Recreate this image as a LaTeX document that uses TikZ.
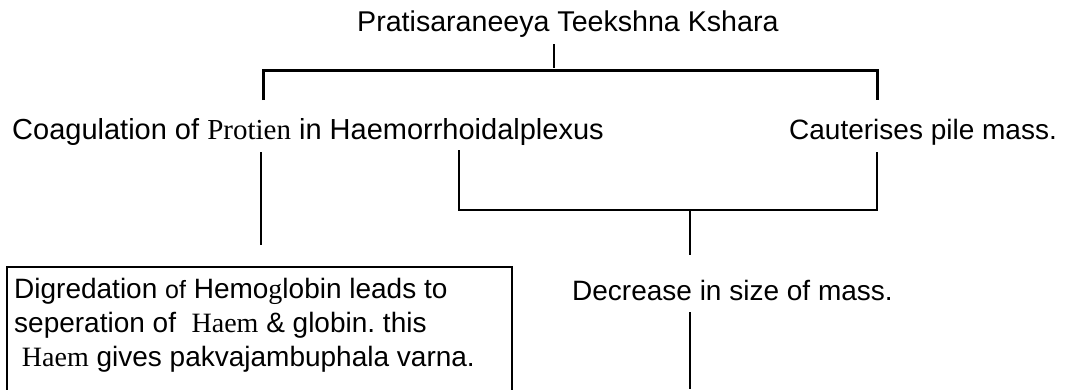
\documentclass[tikz,border=0pt]{standalone}
\usepackage{fontspec}
\setmainfont{Liberation Sans}
\newfontfamily\tmsfont{Liberation Serif}
\usetikzlibrary{calc}
\usetikzlibrary{positioning}
\frenchspacing

\tikzset{
  lbl/.style={inner sep=0pt, anchor=base west, font=\fontsize{28}{36}\selectfont},
  link/.style={black, line width=2pt},
  barlink/.style={black, line width=3pt},
}

\begin{document}
\begin{tikzpicture}[x=1pt,y=-1pt]
\useasboundingbox (0,0) rectangle (1070,389);

\node[lbl, font=\fontsize{28.6}{36}\selectfont] (kshara) at (357,31) {Pratisaraneeya Teekshna Kshara};
\node[lbl, font=\fontsize{29}{36}\selectfont] (coag) at (12,139) {Coagulation of {\tmsfont Protien} in Haemorrhoidalplexus};
\node[lbl] (cauter) at (789,139) {Cauterises pile mass.};
\node[lbl] (decr) at (572,300) {Decrease in size of mass.};

\node[draw, line width=2pt, anchor=north west, inner sep=0pt, minimum width=505pt, minimum height=150pt] (haembox) at (6,266) {};
\node[lbl] (hb1) at (14,298) {Digredation {\fontsize{25}{30}\selectfont of} Hemo{\tmsfont g}lobin leads to};
\node[lbl] (hb2) at (14,332) {seperation of \ {\tmsfont Haem} \& globin. this};
\node[lbl] (hb3) at (14,366) {\ {\tmsfont Haem} gives pakvajambuphala varna.};

\coordinate (k0) at (554,44);
\coordinate (k1) at (554,68);
\coordinate (bl) at (263,70);
\coordinate (br) at (877,70);
\coordinate (bl1) at (263,100);
\coordinate (br1) at (877,100);

\coordinate (c0) at (261,152);
\coordinate (c1) at (261,245);

\coordinate (h0) at (459,150);
\coordinate (h1) at (459,210);
\coordinate (p0) at (877,152);
\coordinate (p1) at (877,210);
\coordinate (m0) at (690,210);
\coordinate (m1) at (690,255);

\coordinate (d0) at (690,312);
\coordinate (d1) at (690,389);

\draw[link] (k0)--(k1);
\draw[barlink] (bl1)--(bl)--(br)--(br1);

\draw[link] (c0)--(c1);

\draw[link] (h0)--(h1)--(p1)--(p0);
\draw[link] (m0)--(m1);

\draw[link] (d0)--(d1);

\end{tikzpicture}
\end{document}
